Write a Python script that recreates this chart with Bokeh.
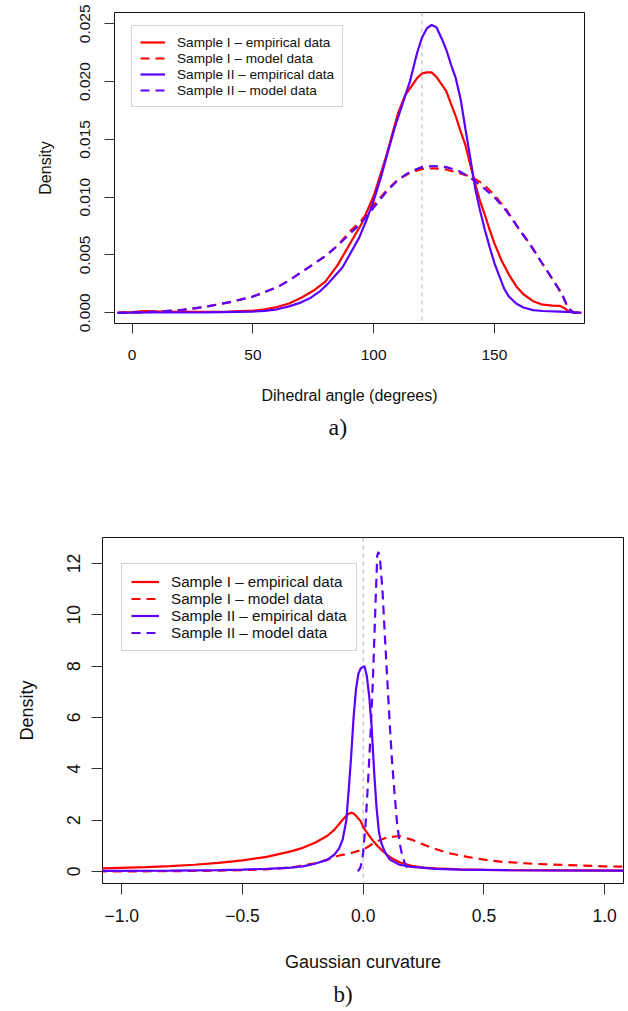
from bokeh.plotting import figure
from bokeh.models import FixedTicker, Span, Title
from bokeh.embed import file_html
from bokeh.resources import INLINE

RED = "#FF0000"
BLUE = "#5B00FF"
SANS = "Liberation Sans"
SERIF = "Liberation Serif"

legend_labels = ["Sample I \u2013 empirical data", "Sample I \u2013 model data",
                 "Sample II \u2013 empirical data", "Sample II \u2013 model data"]

# ---------------- panel a) : dihedral angle ----------------
a_emp1_x = [-6, 0, 5, 10, 15, 20, 30, 40, 50, 55, 60, 65, 70, 75, 80, 85, 90, 95, 100, 105, 110, 113, 116, 118,
            120, 122, 124, 126, 128, 130, 132, 134, 136, 138, 140, 142, 144, 146, 148, 150, 153, 156, 159, 162,
            166, 170, 174, 177, 179, 181, 183, 186]
a_emp1_y = [0, 0.00005, 0.00015, 0.00012, 0.0001, 0.00008, 0.00008, 0.0001, 0.00018, 0.0003, 0.0005, 0.0008,
            0.0013, 0.0019, 0.0027, 0.0041, 0.0059, 0.0077, 0.0101, 0.0134, 0.0172, 0.0188, 0.0197, 0.0203,
            0.0207, 0.0208, 0.0208, 0.0204, 0.0198, 0.0192, 0.0181, 0.0170, 0.0157, 0.0145, 0.0128, 0.0112,
            0.0097, 0.0085, 0.0072, 0.0060, 0.0045, 0.0033, 0.0023, 0.0016, 0.0010, 0.0007, 0.00062, 0.0006,
            0.0004, 0.0001, 0.00003, 0]

a_emp2_x = [-6, 10, 30, 50, 55, 60, 65, 70, 74, 78, 81, 84, 87, 90, 94, 97, 100, 103, 106, 109, 112, 115, 118,
            120, 122, 124, 126, 128, 130, 132, 134, 136, 138, 140, 142, 144, 146, 148, 150, 152, 154, 156, 159,
            162, 166, 170, 177, 182, 186]
a_emp2_y = [0, 0.00002, 0.00003, 0.0001, 0.00017, 0.0003, 0.00055, 0.0009, 0.0013, 0.0019, 0.0025, 0.0032,
            0.0039, 0.0050, 0.0065, 0.0080, 0.0097, 0.0117, 0.0140, 0.0162, 0.0181, 0.0200, 0.0225, 0.0238,
            0.0246, 0.0249, 0.0247, 0.0238, 0.0228, 0.0215, 0.0203, 0.0185, 0.0159, 0.0134, 0.0108, 0.0089,
            0.0072, 0.0057, 0.0043, 0.0032, 0.0021, 0.0014, 0.0008, 0.00045, 0.00023, 0.00015, 0.0001,
            0.00005, 0]

a_mod1_x = [-6, 0, 10, 20, 30, 40, 50, 60, 65, 70, 75, 80, 85, 90, 95, 100, 105, 110, 115, 120, 125, 130, 135,
            140, 145, 150, 155, 160, 165, 170, 175, 178, 180.5, 183, 186]
a_mod1_y = [0, 0.00003, 0.0001, 0.00022, 0.0005, 0.0009, 0.0014, 0.0022, 0.0028, 0.0035, 0.0042, 0.0049,
            0.0058, 0.0070, 0.0080, 0.0093, 0.0105, 0.0115, 0.0121, 0.01245, 0.0125, 0.0124, 0.0121, 0.0118,
            0.0112, 0.0102, 0.0089, 0.0073, 0.0059, 0.0042, 0.0026, 0.0016, 0.0004, 0, 0]

a_mod2_x = [-6, 0, 10, 20, 30, 40, 50, 60, 65, 70, 75, 80, 85, 90, 95, 100, 105, 110, 115, 120, 125, 130, 135,
            140, 145, 150, 155, 160, 165, 170, 175, 178, 180.5, 183, 186]
a_mod2_y = [0, 0.00003, 0.0001, 0.00022, 0.0005, 0.0009, 0.0014, 0.0022, 0.0028, 0.0035, 0.0042, 0.0049,
            0.0058, 0.0068, 0.0078, 0.0091, 0.0104, 0.0115, 0.0122, 0.0126, 0.0127, 0.0126, 0.0123, 0.0117,
            0.0109, 0.0100, 0.0088, 0.0073, 0.0058, 0.0042, 0.0026, 0.0016, 0.0004, 0, 0]

a_xticks = [0, 50, 100, 150]
a_yticks = [0.0, 0.005, 0.010, 0.015, 0.020, 0.025]
a_ylabels = ["0.000", "0.005", "0.010", "0.015", "0.020", "0.025"]
a_ref = 120

# ---------------- panel b) : Gaussian curvature ----------------
b_emp1_x = [-1.1, -0.9, -0.8, -0.7, -0.6, -0.5, -0.4, -0.3, -0.25, -0.2, -0.15, -0.12, -0.1, -0.08, -0.06, -0.05,
            -0.04, -0.03, -0.01, 0.0, 0.02, 0.04, 0.06, 0.08, 0.1, 0.12, 0.15, 0.2, 0.25, 0.3, 0.4, 0.5, 0.6, 0.8,
            1.1]
b_emp1_y = [0.11, 0.17, 0.21, 0.26, 0.33, 0.43, 0.57, 0.78, 0.92, 1.12, 1.38, 1.62, 1.85, 2.07, 2.25, 2.29,
            2.26, 2.17, 1.95, 1.72, 1.45, 1.2, 0.98, 0.8, 0.64, 0.5, 0.36, 0.22, 0.15, 0.12, 0.08, 0.06, 0.05,
            0.04, 0.03]

b_emp2_x = [-1.1, -0.8, -0.6, -0.5, -0.4, -0.3, -0.25, -0.2, -0.15, -0.12, -0.1, -0.085, -0.07, -0.06, -0.05,
            -0.04, -0.03, -0.02, -0.01, 0.005, 0.015, 0.025, 0.035, 0.045, 0.055, 0.065, 0.075, 0.09, 0.11, 0.15,
            0.2, 0.3, 0.4, 0.6, 1.1]
b_emp2_y = [0.02, 0.03, 0.05, 0.07, 0.1, 0.15, 0.2, 0.3, 0.45, 0.65, 0.9, 1.25, 2.0, 3.2, 4.5, 6.0, 7.1, 7.7,
            7.92, 8.0, 7.6, 6.8, 5.6, 3.9, 2.5, 1.55, 1.1, 0.75, 0.46, 0.26, 0.18, 0.1, 0.07, 0.05, 0.03]

b_mod1_x = [-1.1, -0.8, -0.6, -0.5, -0.4, -0.3, -0.26, -0.2, -0.15, -0.12, -0.1, -0.05, 0.0, 0.03, 0.05, 0.1,
            0.15, 0.2, 0.22, 0.29, 0.35, 0.43, 0.5, 0.57, 0.7, 0.78, 0.9, 1.0, 1.1]
b_mod1_y = [0.0, 0.01, 0.03, 0.05, 0.08, 0.15, 0.22, 0.32, 0.45, 0.56, 0.62, 0.72, 0.85, 1.02, 1.15, 1.33,
            1.38, 1.24, 1.16, 0.9, 0.72, 0.57, 0.46, 0.38, 0.3, 0.27, 0.23, 0.2, 0.18]

b_mod2_x = [-0.022, -0.012, -0.005, 0.0, 0.01, 0.02, 0.03, 0.04, 0.05, 0.058, 0.063, 0.07, 0.08, 0.09, 0.1,
            0.11, 0.12, 0.13, 0.14, 0.15, 0.16, 0.17, 0.18, 0.19, 0.2]
b_mod2_y = [0.0, 0.15, 0.4, 0.75, 1.9, 3.5, 5.3, 7.45, 10.2, 12.3, 12.45, 12.1, 10.9, 9.1, 7.4, 5.7, 4.2, 3.0,
            1.9, 1.15, 0.68, 0.38, 0.17, 0.06, 0.01]

b_xticks = [-1.0, -0.5, 0.0, 0.5, 1.0]
b_xlabels = ["\u22121.0", "\u22120.5", "0.0", "0.5", "1.0"]
b_yticks = [0, 2, 4, 6, 8, 10, 12]
b_ref = 0.0


def style(p, tick_size, label_size, tick_len, xtick_standoff, ytick_standoff, xlabel_standoff, ylabel_standoff):
    p.xgrid.visible = False
    p.ygrid.visible = False
    p.outline_line_color = "#111111"
    p.outline_line_width = 1
    p.background_fill_color = "white"
    p.border_fill_color = "white"
    for ax in (p.xaxis[0], p.yaxis[0]):
        ax.axis_line_color = None
        ax.major_tick_out = tick_len
        ax.major_tick_in = 0
        ax.major_tick_line_color = "#333333"
        ax.major_tick_line_width = 1
        ax.minor_tick_line_color = None
        ax.major_label_text_font = SANS
        ax.major_label_text_font_size = tick_size
        ax.major_label_text_color = "#111111"
        ax.axis_label_text_font = SANS
        ax.axis_label_text_font_size = label_size
        ax.axis_label_text_font_style = "normal"
        ax.axis_label_text_color = "#111111"
    p.xaxis[0].major_label_standoff = xtick_standoff
    p.yaxis[0].major_label_standoff = ytick_standoff
    p.xaxis[0].axis_label_standoff = xlabel_standoff
    p.yaxis[0].axis_label_standoff = ylabel_standoff
    p.yaxis[0].major_label_orientation = "vertical"


def style_legend(p, loc, font_size, glyph_w, row_h, pad):
    lg = p.legend[0]
    lg.location = loc
    lg.margin = 0
    lg.padding = pad
    lg.spacing = 0
    lg.glyph_width = glyph_w
    lg.glyph_height = row_h
    lg.label_height = row_h
    lg.label_standoff = 12
    lg.label_text_font = SANS
    lg.label_text_font_size = font_size
    lg.label_text_color = "#111111"
    lg.border_line_color = "#aaaaaa"
    lg.border_line_width = 1
    lg.background_fill_alpha = 1.0


W = 2.2

# ---------- figure a ----------
p1 = figure(width=628, height=445, x_range=(-7.3, 187.3), y_range=(-0.00093, 0.02598),
            output_backend="svg", toolbar_location=None,
            min_border_left=114, min_border_right=44, min_border_top=12, min_border_bottom=122)
p1.add_layout(Span(location=a_ref, dimension="height", line_color="#c8c8c8", line_width=1.5,
                   line_dash="4 4", level="underlay"))
p1.line(a_emp1_x, a_emp1_y, line_color=RED, line_width=W, legend_label=legend_labels[0])
p1.line(a_mod1_x, a_mod1_y, line_color=RED, line_width=W, line_dash="9 6", legend_label=legend_labels[1])
p1.line(a_emp2_x, a_emp2_y, line_color=BLUE, line_width=W, legend_label=legend_labels[2])
p1.line(a_mod2_x, a_mod2_y, line_color=BLUE, line_width=W, line_dash="9 6", legend_label=legend_labels[3])

style(p1, "15.5px", "16px", 10, 16, 14, 24, 24)
p1.xaxis[0].ticker = FixedTicker(ticks=a_xticks)
p1.yaxis[0].ticker = FixedTicker(ticks=a_yticks)
p1.yaxis[0].major_label_overrides = {t: l for t, l in zip(a_yticks, a_ylabels)}
p1.xaxis[0].axis_label = "Dihedral angle (degrees)"
p1.yaxis[0].axis_label = "Density"
style_legend(p1, (17, 216), "13.6px", 25, 16, 8)
p1.add_layout(Title(text="a)", align="left", offset=214, text_font=SERIF, text_font_size="24px",
                    text_font_style="normal", text_color="#111111", standoff=10), "below")

# ---------- figure b ----------
p2 = figure(width=628, height=566, x_range=(-1.08, 1.078), y_range=(-0.47, 13.01),
            output_backend="svg", toolbar_location=None,
            min_border_left=102, min_border_right=5, min_border_top=92, min_border_bottom=128)
p2.add_layout(Span(location=b_ref, dimension="height", line_color="#c8c8c8", line_width=1.5,
                   line_dash="4 4", level="underlay"))
p2.line(b_emp1_x, b_emp1_y, line_color=RED, line_width=W, legend_label=legend_labels[0])
p2.line(b_mod1_x, b_mod1_y, line_color=RED, line_width=W, line_dash="9 6", legend_label=legend_labels[1])
p2.line(b_emp2_x, b_emp2_y, line_color=BLUE, line_width=W, legend_label=legend_labels[2])
p2.line(b_mod2_x, b_mod2_y, line_color=BLUE, line_width=W, line_dash="9 6", legend_label=legend_labels[3])

style(p2, "17.5px", "18px", 11, 14, 11, 27, 28)
p2.xaxis[0].ticker = FixedTicker(ticks=b_xticks)
p2.xaxis[0].major_label_overrides = {t: l for t, l in zip(b_xticks, b_xlabels)}
p2.yaxis[0].ticker = FixedTicker(ticks=b_yticks)
p2.xaxis[0].axis_label = "Gaussian curvature"
p2.yaxis[0].axis_label = "Density"
style_legend(p2, (19, 232), "15.2px", 28, 17, 9)
p2.add_layout(Title(text="b)", align="left", offset=231, text_font=SERIF, text_font_size="23px",
                    text_font_style="normal", text_color="#111111", standoff=10), "below")

open("out.html", "w").write(file_html([p1, p2], INLINE))
